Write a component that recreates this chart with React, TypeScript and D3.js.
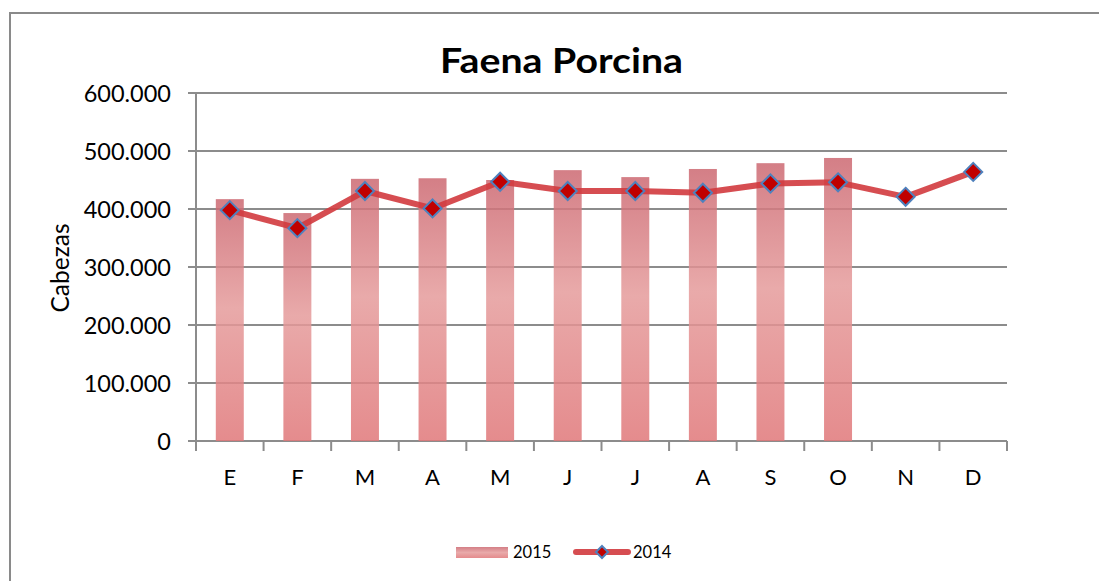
import React from "react";
import * as d3 from "d3";

const categories = ["E", "F", "M", "A", "M", "J", "J", "A", "S", "O", "N", "D"];
const values2015 = [417000, 393000, 452000, 453000, 450000, 467000, 455000, 469000, 479000, 488000];
const values2014 = [398000, 367000, 431000, 401000, 447000, 431000, 431000, 428000, 444000, 446000, 421000, 464000];
const yTicks = [0, 100000, 200000, 300000, 400000, 500000, 600000];
const title = "Faena Porcina";
const yTitle = "Cabezas";
const seriesNames = ["2015", "2014"];

const fmt = (v: number) => (v === 0 ? "0" : d3.format(",")(v).replace(/,/g, "."));

export default function App() {
  const W = 1099, H = 581;
  const left = 196, right = 1007, top = 93, bottom = 441;
  const x = d3
    .scaleBand<number>()
    .domain(categories.map((_, i) => i))
    .range([left, right])
    .paddingInner(0.586)
    .paddingOuter(0.293);
  const step = x.step();
  const y = d3.scaleLinear().domain([0, 600000]).range([bottom, top]);
  const cx = (i: number) => (x(i) as number) + x.bandwidth() / 2;

  const line = d3
    .line<number>()
    .x((_, i) => cx(i))
    .y((d) => y(d));

  const font = "Lato, 'Open Sans', sans-serif";
  const grey = "#8c8c8c";
  const diamond = (px: number, py: number, r: number) =>
    `M${px},${py - r}L${px + r},${py}L${px},${py + r}L${px - r},${py}Z`;

  return (
    <svg
      width={W}
      height={H}
      style={{ position: "absolute", left: 0, top: 0, display: "block", background: "#fff" }}
    >
      <defs>
        <linearGradient id="barGrad" x1="0" y1="0" x2="0" y2="1">
          <stop offset="0%" stopColor="#cc6871" />
          <stop offset="45%" stopColor="#e59b9b" />
          <stop offset="100%" stopColor="#e07779" />
        </linearGradient>
        <linearGradient id="legGrad" x1="0" y1="0" x2="0" y2="1">
          <stop offset="0%" stopColor="#cc6871" />
          <stop offset="50%" stopColor="#e59b9b" />
          <stop offset="100%" stopColor="#e07779" />
        </linearGradient>
      </defs>
      <rect x={10} y={13} width={1100} height={600} fill="#fff" stroke="#8a8a8a" strokeWidth={2} />

      <text
        x={440}
        y={73}
        textLength={243}
        lengthAdjust="spacingAndGlyphs"
        fontFamily={font}
        fontWeight={700}
        fontSize={35}
        fill="#000"
      >
        {title}
      </text>

      {/* gridlines */}
      {yTicks.map((t) => (
        <line key={"g" + t} x1={188} x2={right} y1={y(t)} y2={y(t)} stroke={grey} strokeWidth={2} />
      ))}
      {/* y axis */}
      <line x1={left} x2={left} y1={top} y2={bottom + 10} stroke={grey} strokeWidth={2} />
      {/* x ticks */}
      {d3.range(categories.length + 1).map((i) => (
        <line
          key={"xt" + i}
          x1={left + i * step}
          x2={left + i * step}
          y1={bottom}
          y2={bottom + 10}
          stroke={grey}
          strokeWidth={2}
        />
      ))}

      {yTicks.map((t) => (
        <text key={"yl" + t} x={171} y={y(t) + 9} textAnchor="end" fontFamily={font} fontSize={23.5} fill="#000">
          {fmt(t)}
        </text>
      ))}

      {categories.map((c, i) => (
        <text key={"xl" + i} x={cx(i)} y={485} textAnchor="middle" fontFamily={font} fontSize={22} fill="#000">
          {c}
        </text>
      ))}

      <text
        transform={`translate(69,268) rotate(-90)`}
        textAnchor="middle"
        fontFamily={font}
        fontSize={24.5}
        fill="#000"
      >
        {yTitle}
      </text>

      {/* bars 2015 */}
      {values2015.map((v, i) => (
        <rect
          key={"b" + i}
          x={x(i)}
          y={y(v)}
          width={x.bandwidth()}
          height={bottom - y(v)}
          fill="url(#barGrad)"
          opacity={0.85}
        />
      ))}

      {/* line 2014 */}
      <path d={line(values2014) || ""} fill="none" stroke="#d23a3e" strokeOpacity={0.9} strokeWidth={6} strokeLinejoin="round" />
      {values2014.map((v, i) => (
        <path key={"m" + i} d={diamond(cx(i), y(v), 9)} fill="#c00000" stroke="#4f81bd" strokeWidth={2} />
      ))}

      {/* legend */}
      <rect x={456} y={547} width={52} height={11} fill="url(#legGrad)" opacity={0.85} />
      <text x={513} y={558} fontFamily={font} fontSize={16.5} fill="#000">
        {seriesNames[0]}
      </text>
      <line x1={576} x2={628} y1={552} y2={552} stroke="#d23a3e" strokeOpacity={0.9} strokeWidth={6} strokeLinecap="round" />
      <path d={diamond(602, 552, 6)} fill="#c00000" stroke="#4f81bd" strokeWidth={2} />
      <text x={633} y={558} fontFamily={font} fontSize={16.5} fill="#000">
        {seriesNames[1]}
      </text>
    </svg>
  );
}
